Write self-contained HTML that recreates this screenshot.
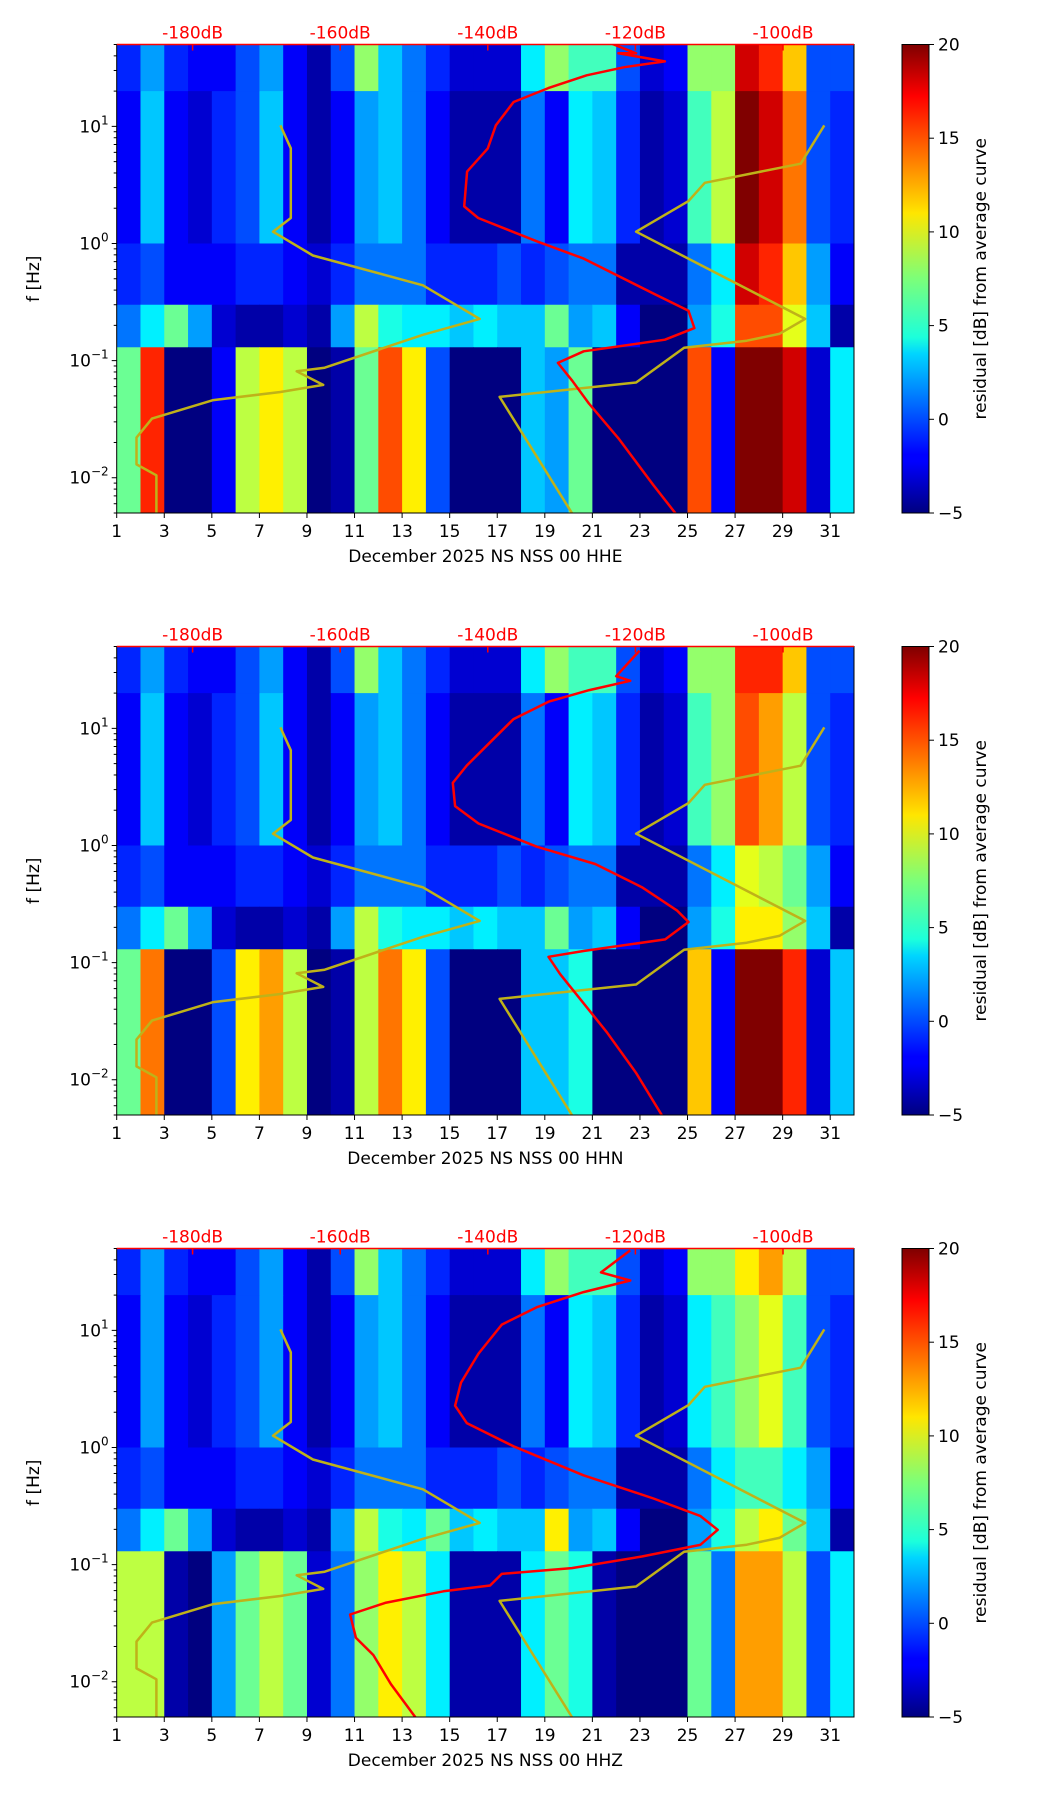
<!DOCTYPE html>
<html><head><meta charset="utf-8"><style>
body{margin:0;background:#fff;}
svg text{font-family:"DejaVu Sans","Liberation Sans",sans-serif;}
</style></head><body>
<svg id="fig" width="1052" height="1806" viewBox="0 0 1052 1806" xmlns="http://www.w3.org/2000/svg">
<defs>
<linearGradient id="jet" x1="0" y1="1" x2="0" y2="0">
<stop offset="0" stop-color="#00007f"/><stop offset="0.11" stop-color="#0000ff"/><stop offset="0.125" stop-color="#0000ff"/>
<stop offset="0.34" stop-color="#00d5ff"/><stop offset="0.375" stop-color="#1cffdb"/><stop offset="0.5" stop-color="#7cff79"/>
<stop offset="0.64" stop-color="#ffe600"/><stop offset="0.66" stop-color="#ffd300"/><stop offset="0.89" stop-color="#ff0000"/><stop offset="1" stop-color="#7f0000"/>
</linearGradient>
</defs>
</svg>
<script>
// ---- data ----
const days = [1,2,3,4,5,6,7,8,9,10,11,12,13,14,15,16,17,18,19,20,21,22,23,24,25,26,27,28,29,30,31];
const bandEdges = [50,20,1,0.3,0.13,0.005];
const xTickDays = [1,3,5,7,9,11,13,15,17,19,21,23,25,27,29,31];
const dbTicks = [-180,-160,-140,-120,-100];
const cbTicks = [-5,0,5,10,15,20];
const channels = ['HHE','HHN','HHZ'];
// residual dB per band (rows top->bottom) per day
const resE = [
 [-1,2,-1,-2,-2,0,2,-2,-4,0,8,3,1,-1,-3,-3,-3,4,8,6,6,0,-3,-2,8,8,18,16,12,0,0],
 [-2,3,-2,-3,-1,0,3,-2,-4,-2,2,3,1,-2,-4,-4,-4,1,-2,4,3,-1,-4,-3,6,9,20,18,14,0,-1],
 [-1,0,-2,-2,-2,-1,-1,-2,-3,-1,1,1,1,-1,-1,-1,0,-1,0,1,1,-4,-4,-4,1,4,18,16,12,2,-2],
 [1,4,7,2,-3,-4,-4,-3,-4,2,9,5,4,4,3,4,3,3,7,2,3,-2,-5,-5,2,5,15,15,10,3,-4],
 [7,16,-5,-5,-2,9,11,9,-5,-4,7,15,11,0,-5,-5,-5,3,2,7,-5,-5,-5,-5,15,-2,20,20,18,-3,4]
];
const resN = [
 [-1,2,-1,-2,-2,0,2,-2,-4,0,8,3,1,-1,-3,-3,-3,4,8,6,6,0,-3,-2,8,8,16,16,12,0,0],
 [-2,3,-2,-3,-1,0,3,-2,-4,-2,2,3,1,-2,-4,-4,-4,1,-2,4,3,-1,-4,-3,6,8,15,13,9,0,-1],
 [-1,0,-2,-2,-2,-1,-1,-2,-3,-1,1,1,1,-1,-1,-1,0,-1,0,1,1,-4,-4,-4,1,4,10,9,7,2,-2],
 [1,4,7,2,-3,-4,-4,-3,-4,2,9,5,4,4,3,4,3,3,7,2,3,-2,-5,-5,2,5,11,11,8,3,-4],
 [7,14,-5,-5,0,11,13,9,-5,-4,9,14,11,0,-5,-5,-5,3,3,5,-5,-5,-5,-5,12,-2,20,20,16,-3,3]
];
const resZ = [
 [-1,2,-1,-2,-2,0,2,-2,-4,0,8,3,1,-1,-3,-3,-3,4,8,6,6,0,-3,-2,8,8,11,13,9,0,0],
 [-2,2,-2,-3,-1,0,2,-2,-4,-2,2,3,1,-2,-4,-4,-4,1,-2,4,3,-1,-4,-3,4,6,8,10,6,0,-1],
 [-1,0,-2,-2,-2,-1,-1,-2,-3,-1,1,1,1,-1,-1,-1,0,-1,0,1,1,-4,-4,-4,1,4,6,6,4,2,-2],
 [1,4,7,2,-3,-4,-4,-3,-4,2,9,5,4,7,3,4,3,3,11,2,3,-2,-5,-5,2,5,9,11,7,3,-4],
 [9,9,-4,-5,2,7,9,7,-3,1,8,11,9,4,-4,-4,-4,4,7,5,-4,-5,-5,-5,7,1,13,13,9,0,4]
];
const resAll = [resE,resN,resZ];
// NLNM-like curve (top dB axis, freq)
const lowDb = [-168.1,-166.7,-166.7,-169.1,-163.7,-148.8,-141.1,-148.8,-162.1,-165.9,-162.3,-168.1,-177.2,-185.5,-187.6,-187.6,-184.9,-184.9];
const lowF = [10.2,6.5,1.65,1.26,0.79,0.44,0.227,0.166,0.087,0.081,0.062,0.054,0.046,0.032,0.022,0.013,0.0105,0.005];
// NHNM-like curve
const highDb = [-94.4,-97.6,-110.6,-112.8,-119.9,-97.0,-100.5,-104.9,-113.4,-119.9,-138.4,-128.6];
const highF = [10.2,4.8,3.3,2.3,1.26,0.227,0.169,0.148,0.129,0.065,0.049,0.005];
// average PSD curves per channel
const avgEdb = [-123.1,-119.9,-122.3,-116.0,-121.5,-126.6,-131.8,-136.5,-138.9,-140.0,-142.8,-143.2,-141.3,-133.4,-127.0,-122.3,-117.6,-112.8,-112.0,-116.0,-127.0,-130.5,-128.6,-126.3,-122.3,-117.6,-114.4];
const avgEy = [40,48,48,55,60,67,78,90,110,130,150,180,190,210,225,240,255,270,285,295,305,315,330,350,380,420,446];
const avgNx = [548,528,540,505,470,440,420,400,388,390,410,460,510,550,580,590,570,500,470,480,500,520,545,568];
const avgNy = [44,66,70,78,88,103,123,143,158,178,193,213,228,248,268,278,293,303,308,323,348,373,408,446];
const avgZx = [540,515,540,500,460,430,410,395,390,400,440,500,560,600,615,600,550,490,430,420,380,330,300,305,320,335,357];
const avgZy = [42,61,68,78,91,106,131,156,176,191,211,236,256,271,283,296,306,316,321,331,336,346,356,376,391,416,446];

// ---- helpers ----
const NS='http://www.w3.org/2000/svg';
const svg=document.getElementById('fig');
function mk(tag,attrs,parent){const e=document.createElementNS(NS,tag);for(const k in attrs)e.setAttribute(k,attrs[k]);(parent||svg).appendChild(e);return e;}
const L=116.7,R=854,H=468.5,tops=[44.5,646.5,1248.5];
const xDay=d=>L+(d-1)*(R-L)/31;
const xDb=db=>192.6+(db+180)*7.38;
const yF=(f,top)=>top+(Math.log10(50)-Math.log10(f))/4*H;
const dispX=x=>(x*1.167-192.6)/7.38-180;
const dispYtoF=y=>Math.pow(10,1-(y-111)/101);
function jet(v){const t=Math.max(0,Math.min(1,(v+5)/25));const c=x=>Math.round(255*Math.max(0,Math.min(1,1.5-Math.abs(4*t-x))));return `rgb(${c(3)},${c(2)},${c(1)})`;}
const avgDbAll=[avgEdb,avgNx.map(dispX),avgZx.map(dispX)];
const avgFAll=[avgEy.map(dispYtoF),avgNy.map(dispYtoF),avgZy.map(dispYtoF)];

tops.forEach((top,p)=>{
  const g=mk('g',{});
  
  
  const clip=mk('clipPath',{id:'c'+p},g);
  mk('rect',{x:L,y:top,width:R-L,height:H},clip);
  const hm=mk('g',{'clip-path':`url(#c${p})`},g);
  
  
  const res=resAll[p];
  res.forEach((row,b)=>{row.forEach((v,i)=>{
    const y0=yF(bandEdges[b],top),y1=yF(bandEdges[b+1],top);
    const r=mk('rect',{x:xDay(days[i]),y:y0,width:(R-L)/31+0.6,height:y1-y0+0.6,fill:jet(v)},hm);
    
    
  });});
  const line=(dbs,fs,color,name,w)=>{const pts=dbs.map((d,i)=>xDb(d).toFixed(1)+','+yF(fs[i],top).toFixed(1)).join(' ');
    const pl=mk('polyline',{points:pts,fill:'none',stroke:color,'stroke-width':w,'stroke-linejoin':'round'},hm);
    
    };
  line(lowDb,lowF,'#bfb219','low-noise-model',2.5);
  line(highDb,highF,'#bfb219','high-noise-model',2.5);
  line(avgDbAll[p],avgFAll[p],'#ff0000','average-psd-curve',2.5);
  mk('rect',{x:L,y:top,width:R-L,height:H,fill:'none',stroke:'#000','stroke-width':1},g);
  mk('line',{x1:L,y1:top,x2:R,y2:top,stroke:'#ff0000','stroke-width':1.5},g);
  xTickDays.forEach(d=>{const x=xDay(d);mk('line',{x1:x,y1:top+H,x2:x,y2:top+H+5,stroke:'#000'},g);
    const t=mk('text',{x:x,y:top+H+24,'font-size':17,'text-anchor':'middle'},g);t.textContent=d;
    });
  const xl=mk('text',{x:(L+R)/2,y:top+H+49,'font-size':17,'text-anchor':'middle'},g);xl.textContent='December 2025 NS NSS 00 '+channels[p];
  
  dbTicks.forEach(db=>{const x=xDb(db);mk('line',{x1:x,y1:top,x2:x,y2:top+6,stroke:'#ff0000','stroke-width':1.5},g);
    const t=mk('text',{x:x,y:top-6,'font-size':17,'text-anchor':'middle',fill:'#ff0000'},g);t.textContent=db+'dB';
    });
  for(let e=-3;e<=1;e++){for(let m=1;m<10;m++){const f=m*Math.pow(10,e);if(f<0.005||f>50)continue;const y=yF(f,top);
    mk('line',{x1:L-(m==1?5:3),y1:y,x2:L,y2:y,stroke:'#000'},g);
    if(m==1){const t=mk('text',{x:L-8,y:y+6,'font-size':17,'text-anchor':'end'},g);
      t.innerHTML='10<tspan dy="-8" font-size="12">'+(e<0?'\u2212'+(-e):e)+'</tspan>';
      }}}
  const yl=mk('text',{x:0,y:0,'font-size':17,'text-anchor':'middle',transform:`translate(39,${top+H/2}) rotate(-90)`},g);yl.textContent='f [Hz]';
  
  const cb=mk('rect',{x:902,y:top,width:27,height:H,fill:'url(#jet)',stroke:'#000','stroke-width':1},g);
  
  cbTicks.forEach(v=>{const y=top+H-(v+5)/25*H;mk('line',{x1:929,y1:y,x2:934,y2:y,stroke:'#000'},g);
    const t=mk('text',{x:938,y:y+6,'font-size':17},g);t.textContent=v<0?'\u2212'+(-v):v;
    });
  const cl=mk('text',{x:0,y:0,'font-size':17,'text-anchor':'middle',transform:`translate(986,${top+H/2}) rotate(-90)`},g);cl.textContent='residual [dB] from average curve';
  
});
</script>
</body></html>
